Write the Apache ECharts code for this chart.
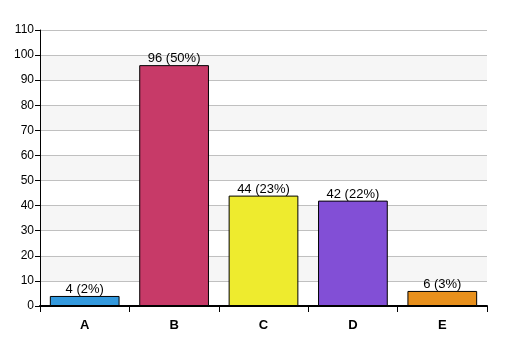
<!DOCTYPE html>
<html><head><meta charset="utf-8">
<script src="https://cdn.jsdelivr.net/npm/echarts@6/dist/echarts.min.js"></script>
<style>html,body{margin:0;padding:0;background:#fff}#c{width:507px;height:356px}</style>
</head><body><div id="c"></div>
<script>
const categories = ['A','B','C','D','E'];
const values = [4, 96, 44, 42, 6];
const percents = ['2%','50%','23%','22%','3%'];
const colors = ['#3399dd','#c73a68','#eeeb2e','#824fd6','#e8901c'];
const chart = echarts.init(document.getElementById('c'));
chart.setOption({
  animation:false,
  grid:{left:40,right:20,top:30,bottom:50},
  xAxis:{type:'category',data:categories,
    axisLine:{lineStyle:{color:'#000',width:2}},
    axisTick:{show:true,length:6,lineStyle:{color:'#000'}},
    axisLabel:{color:'#000',fontWeight:'bold',fontSize:13,fontFamily:'Liberation Sans, Arial',margin:13}},
  yAxis:{type:'value',min:0,max:110,interval:10,
    axisLine:{show:true,lineStyle:{color:'#000'}},
    axisTick:{show:true,length:5,lineStyle:{color:'#000'}},
    axisLabel:{color:'#000',fontSize:12,fontFamily:'Liberation Sans, Arial',margin:6},
    splitLine:{lineStyle:{color:'#c0c0c0'}},
    splitArea:{show:true,areaStyle:{color:['#ffffff','#f6f6f6']}}},
  series:[{type:'bar',barWidth:'78%',
    data:values.map((v,i)=>({value:v,itemStyle:{color:colors[i]},label:{formatter:v+' ('+percents[i]+')'}})),
    itemStyle:{borderColor:'#000',borderWidth:1},
    label:{show:true,position:'top',distance:0,color:'#000',fontSize:13,fontFamily:'Liberation Sans, Arial'}}]
});
</script></body></html>
